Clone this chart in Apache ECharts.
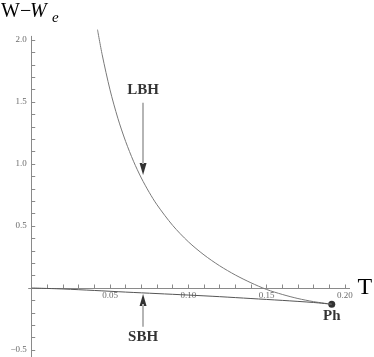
<!DOCTYPE html>
<html><head><meta charset="utf-8">
<script src="https://cdn.jsdelivr.net/npm/echarts@6/dist/echarts.min.js"></script>
<style>html,body{margin:0;padding:0;background:#fff}#c{width:374px;height:357px}</style>
</head><body><div id="c"></div>
<script>
// Large black hole branch (T, W - W_e)
const lbhT = [0.0420, 0.0450, 0.0500, 0.0550, 0.0600, 0.0650, 0.0700, 0.0750, 0.0800, 0.0900, 0.1000, 0.1100, 0.1200, 0.1300, 0.1400, 0.1500, 0.1600, 0.1700, 0.1800, 0.1916];
const lbhW = [2.084, 1.881, 1.598, 1.369, 1.181, 1.022, 0.887, 0.772, 0.671, 0.505, 0.373, 0.267, 0.179, 0.105, 0.042, -0.012, -0.052, -0.085, -0.110, -0.131];
// Small black hole branch
const sbhT = [0, 0.02, 0.04, 0.06, 0.08, 0.10, 0.12, 0.14, 0.16, 0.18, 0.1916];
const sbhW = [0, -0.008, -0.020, -0.033, -0.045, -0.057, -0.070, -0.085, -0.100, -0.117, -0.131];
// Cusp point Ph
const phT = [0.1916];
const phW = [-0.131];
// Tick labels
const xMajorTicks = [0.05, 0.10, 0.15, 0.20];
const xTickLabels = ['0.05', '0.10', '0.15', '0.20'];
const xMinorTicks = [0.01,0.02,0.03,0.04,0.06,0.07,0.08,0.09,0.11,0.12,0.13,0.14,0.16,0.17,0.18,0.19];
const yMajorTicks = [-0.5, 0.5, 1.0, 1.5, 2.0];
const yTickLabels = ['−0.5', '0.5', '1.0', '1.5', '2.0'];
const yMinorTicks = [-0.4,-0.3,-0.2,-0.1,0.1,0.2,0.3,0.4,0.6,0.7,0.8,0.9,1.1,1.2,1.3,1.4,1.6,1.7,1.8,1.9];
// Annotations
const annLabels = ['LBH', 'SBH', 'Ph'];
const annT = [0.0711, 0.0711, 0.1916];
const annW = [1.597, -0.399, -0.226];
const lbhArrow = [[0.0711, 1.494], [0.0711, 1.0]];
const lbhHead = [0.0711, 0.96];
const sbhArrow = [[0.0711, -0.312], [0.0711, -0.13]];
const sbhHead = [0.0711, -0.097];

const FF = 'Liberation Serif';
const zip = (a, b) => a.map((v, i) => [v, b[i]]);
const XMIN = -0.002, XMAX = 0.203, YMIN = -0.555, YMAX = 2.03;

const chart = echarts.init(document.getElementById('c'), null, {renderer: 'canvas'});
const axisCol = '#8a8a8a';
const option = {
  animation: false,
  grid: {left: 28.6, right: 24.4, top: 36.3, bottom: 0.2, containLabel: false, outerBoundsMode: 'none'},
  graphic: [
    {type: 'text', x: 1, y: 2, style: {text: 'W−', font: '20px "Liberation Serif"', fill: '#000', verticalAlign: 'top'}},
    {type: 'text', x: 30, y: 2, style: {text: 'W', font: 'italic 20px "Liberation Serif"', fill: '#000', verticalAlign: 'top'}},
    {type: 'text', x: 52, y: 11, style: {text: 'e', font: 'italic 15px "Liberation Serif"', fill: '#000', verticalAlign: 'top'}}
  ],
  xAxis: [
    {type: 'value', min: XMIN, max: XMAX, position: 'bottom',
     name: 'T', nameLocation: 'end', nameGap: 8,
     nameTextStyle: {fontFamily: FF, fontSize: 24, color: '#000', verticalAlign: 'middle'},
     axisLine: {onZero: true, lineStyle: {color: axisCol, width: 1}},
     axisTick: {show: true, inside: true, length: 3.5, customValues: xMajorTicks.concat(xMinorTicks), lineStyle: {color: axisCol}},
     axisLabel: {show: false},
     splitLine: {show: false}}
  ],
  yAxis: [
    {type: 'value', min: YMIN, max: YMAX, position: 'left',
     axisLine: {onZero: true, lineStyle: {color: axisCol, width: 1}},
     axisTick: {show: true, inside: true, length: 3.5, customValues: yMajorTicks.concat(yMinorTicks), lineStyle: {color: axisCol}},
     axisLabel: {show: false},
     splitLine: {show: false}}
  ],
  series: [
    {type: 'line', name: 'LBH', data: zip(lbhT, lbhW), smooth: 0.3, showSymbol: false, clip: false,
     lineStyle: {color: '#7a7a7a', width: 1}},
    {type: 'line', name: 'SBH', data: zip(sbhT, sbhW), smooth: 0.3, showSymbol: false,
     lineStyle: {color: '#555', width: 1}},
    {type: 'line', name: 'arrows', data: [], silent: true,
     markLine: {silent: true, symbol: ['none', 'none'], label: {show: false},
       lineStyle: {color: '#b5b5b5', width: 2, type: 'solid'},
       data: [
         [{coord: lbhArrow[0]}, {coord: lbhArrow[1]}],
         [{coord: sbhArrow[0]}, {coord: sbhArrow[1]}]
       ]}},
    {type: 'scatter', name: 'heads', silent: true, symbol: 'triangle', symbolSize: [7, 12],
     itemStyle: {color: '#000'},
     data: [{value: lbhHead, symbolRotate: 180}, {value: sbhHead, symbolRotate: 0}]},
    {type: 'scatter', name: 'Ph', data: zip(phT, phW), symbol: 'circle', symbolSize: 7,
     itemStyle: {color: '#000'}},
    {type: 'scatter', name: 'xTicks', silent: true, symbolSize: 0, clip: false,
     data: xMajorTicks.map((v, i) => ({value: [v, 0], name: xTickLabels[i]})),
     label: {show: true, position: 'bottom', distance: 3, formatter: p => p.name,
       fontFamily: FF, fontSize: 9, color: '#444'}},
    {type: 'scatter', name: 'yTicks', silent: true, symbolSize: 0, clip: false,
     data: yMajorTicks.map((v, i) => ({value: [0, v], name: yTickLabels[i]})),
     label: {show: true, position: 'left', distance: 5, formatter: p => p.name,
       fontFamily: FF, fontSize: 9, color: '#444'}},
    {type: 'scatter', name: 'labels', silent: true, symbolSize: 0,
     data: annLabels.map((s, i) => ({value: [annT[i], annW[i]], name: s})),
     label: {show: true, position: 'inside', formatter: p => p.name,
       fontFamily: FF, fontWeight: 'bold', fontSize: 15, color: '#000'}}
  ]
};
chart.setOption(option);
</script></body></html>
